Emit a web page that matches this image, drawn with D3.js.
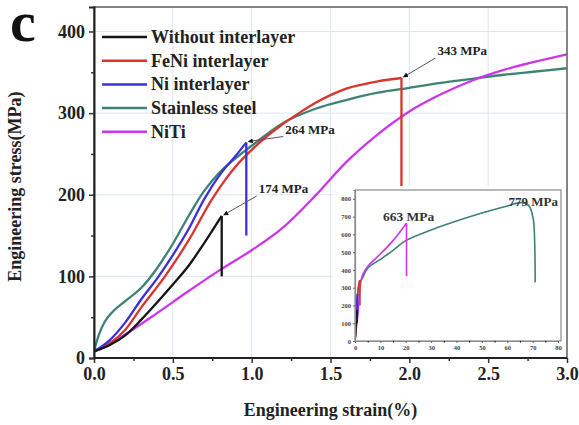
<!DOCTYPE html>
<html>
<head>
<meta charset="utf-8">
<script src="https://cdn.jsdelivr.net/npm/d3@7/dist/d3.min.js"></script>
<style>
  body { margin: 0; background: #fff; }
  svg { font-family: "Liberation Serif", "DejaVu Serif", serif; font-weight: bold; }
</style>
</head>
<body>
<div id="chart"></div>
<script>
// Tensile curves (strain in %, stress in MPa)
const seriesNames = ["Without interlayer", "FeNi interlayer", "Ni interlayer", "Stainless steel", "NiTi"];
const seriesColors = ["#151515", "#d8352f", "#3b30dc", "#3e8275", "#cc35ea"];

const withoutStrain = [0, 0.1, 0.2, 0.3, 0.4, 0.5, 0.6, 0.7, 0.81];
const withoutStress = [8, 16, 28, 47, 68, 90, 113, 141, 174];
const withoutDrop = 100;

const feniStrain = [0, 0.1, 0.2, 0.3, 0.45, 0.6, 0.75, 0.9, 1.0, 1.1, 1.2, 1.3, 1.4, 1.5, 1.6, 1.7, 1.8, 1.95];
const feniStress = [8, 18, 35, 62, 100, 144, 195, 235, 255, 272, 287, 300, 312, 322, 330, 335, 339, 343];
const feniDrop = 200;

const niStrain = [0, 0.1, 0.2, 0.3, 0.41, 0.5, 0.6, 0.7, 0.8, 0.9, 0.966];
const niStress = [8, 22, 44, 72, 100, 126, 158, 195, 225, 248, 264];
const niDrop = 150;

const steelStrain = [0, 0.03, 0.07, 0.12, 0.2, 0.3, 0.4, 0.5, 0.6, 0.7, 0.8, 0.9, 1.0, 1.2, 1.4, 1.6, 1.8, 2.0, 2.2, 2.4, 2.6, 2.8, 3.0];
const steelStress = [8, 28, 45, 57, 70, 86, 110, 140, 174, 205, 228, 245, 260, 288, 305, 316, 325, 331, 337, 342, 347, 351, 355];

const nitiStrain = [0, 0.1, 0.2, 0.4, 0.6, 0.8, 1.0, 1.2, 1.4, 1.6, 1.8, 2.0, 2.2, 2.4, 2.6, 2.8, 3.0];
const nitiStress = [8, 17, 29, 55, 82, 108, 132, 160, 198, 240, 274, 302, 323, 340, 353, 363, 372];

// Inset: the two long curves continue far beyond 3 %
const steelInsetStrain = [5, 10, 15, 20, 30, 40, 50, 60, 65.5, 68.5, 70.2, 70.8, 71];
const steelInsetStress = [410, 460, 510, 565, 625, 675, 720, 760, 779, 762, 690, 560, 330];
const nitiInsetStrain = [5, 10, 15, 20.3];
const nitiInsetStress = [420, 490, 565, 663];
const nitiInsetDrop = 365;

// Axis ticks
const xTicks = [0, 0.5, 1.0, 1.5, 2.0, 2.5, 3.0];
const yTicks = [0, 100, 200, 300, 400];
const insetXTicks = [0, 10, 20, 30, 40, 50, 60, 70, 80];
const insetYTicks = [0, 100, 200, 300, 400, 500, 600, 700, 800];

const width = 579, height = 425;
const margin = { top: 7, right: 12, bottom: 67, left: 94 };
const innerW = width - margin.left - margin.right;
const innerH = height - margin.top - margin.bottom;

const svg = d3.select("#chart").append("svg")
    .attr("width", width)
    .attr("height", height);

const x = d3.scaleLinear().domain([0, 3]).range([margin.left, margin.left + innerW]);
const y = d3.scaleLinear().domain([0, 430]).range([margin.top + innerH, margin.top]);

const zip = (xs, ys) => xs.map((v, i) => [v, ys[i]]);

const series = [
    { strain: withoutStrain, stress: withoutStress, drop: withoutDrop },
    { strain: feniStrain, stress: feniStress, drop: feniDrop },
    { strain: niStrain, stress: niStress, drop: niDrop },
    { strain: steelStrain, stress: steelStress, drop: null },
    { strain: nitiStrain, stress: nitiStress, drop: null }
].map((s, i) => ({ ...s, name: seriesNames[i], color: seriesColors[i] }));

// Gridlines
svg.append("g").selectAll("line.gx")
    .data(xTicks.slice(1, -1)).enter().append("line")
    .attr("x1", d => x(d)).attr("x2", d => x(d))
    .attr("y1", y(430)).attr("y2", y(0))
    .attr("stroke", "#dde5ee").attr("stroke-width", 1);
svg.append("g").selectAll("line.gy")
    .data(yTicks.slice(1)).enter().append("line")
    .attr("x1", x(0)).attr("x2", x(3))
    .attr("y1", d => y(d)).attr("y2", d => y(d))
    .attr("stroke", "#dde5ee").attr("stroke-width", 1);

// Clip for the main plot
svg.append("clipPath").attr("id", "clip-main")
    .append("rect")
    .attr("x", x(0)).attr("y", y(430))
    .attr("width", innerW).attr("height", innerH);

const line = d3.line()
    .x(d => x(d[0]))
    .y(d => y(d[1]))
    .curve(d3.curveMonotoneX);

const plot = svg.append("g").attr("clip-path", "url(#clip-main)");

// Draw in an order so NiTi and steel sit under the interlayer curves where it matters
[3, 4, 1, 2, 0].forEach(i => {
    const s = series[i];
    const pts = zip(s.strain, s.stress);
    plot.append("path")
        .attr("d", line(pts))
        .attr("fill", "none")
        .attr("stroke", s.color)
        .attr("stroke-width", 2.3);
    if (s.drop !== null) {
        const last = pts[pts.length - 1];
        plot.append("line")
            .attr("x1", x(last[0])).attr("x2", x(last[0]))
            .attr("y1", y(last[1])).attr("y2", y(s.drop))
            .attr("stroke", s.color)
            .attr("stroke-width", 2.3);
    }
});

// Frame around the plot
svg.append("rect")
    .attr("x", x(0)).attr("y", y(430))
    .attr("width", innerW).attr("height", innerH)
    .attr("fill", "none")
    .attr("stroke", "#666")
    .attr("stroke-width", 1.6);

// Axes with minor ticks
const xAxis = svg.append("g")
    .attr("transform", `translate(0,${y(0)})`)
    .call(d3.axisBottom(x).tickValues(xTicks).tickFormat(d3.format(".1f")).tickSize(5).tickPadding(4));
svg.append("g")
    .attr("transform", `translate(0,${y(0)})`)
    .call(d3.axisBottom(x).tickValues(d3.range(0.25, 3, 0.5)).tickFormat("").tickSize(3))
    .select(".domain").remove();
const yAxis = svg.append("g")
    .attr("transform", `translate(${x(0)},0)`)
    .call(d3.axisLeft(y).tickValues(yTicks).tickSize(5).tickPadding(4));
svg.append("g")
    .attr("transform", `translate(${x(0)},0)`)
    .call(d3.axisLeft(y).tickValues([50, 150, 250, 350]).tickFormat("").tickSize(3))
    .select(".domain").remove();

svg.selectAll(".tick line").attr("stroke", "#333").attr("stroke-width", 1.5);
[xAxis, yAxis].forEach(a => {
    a.select(".domain").attr("stroke", "#222").attr("stroke-width", 2);
    a.selectAll(".tick text")
        .attr("font-family", "Liberation Serif, serif")
        .attr("font-weight", "bold")
        .attr("font-size", 18)
        .attr("fill", "#222");
});
xAxis.select(".domain").attr("d", `M${x(0)},0H${x(3)}`);

// Axis titles
svg.append("text")
    .attr("x", x(1.5)).attr("y", 416)
    .attr("text-anchor", "middle")
    .attr("font-size", 18)
    .attr("fill", "#222")
    .text("Engineering strain(%)");
svg.append("text")
    .attr("transform", `translate(21,${y(210)}) rotate(-90)`)
    .attr("text-anchor", "middle")
    .attr("font-size", 18)
    .attr("fill", "#222")
    .text("Engineering stress(MPa)");

// Panel letter
svg.append("text")
    .attr("x", 10).attr("y", 41)
    .attr("font-size", 58)
    .attr("fill", "#111")
    .text("c");

// Legend
const legend = svg.append("g");
series.forEach((s, i) => {
    const ly = 37 + i * 23.7;
    legend.append("line")
        .attr("x1", 102).attr("x2", 147)
        .attr("y1", ly).attr("y2", ly)
        .attr("stroke", s.color).attr("stroke-width", 2.5);
    legend.append("text")
        .attr("x", 151).attr("y", ly + 6)
        .attr("font-size", 18)
        .attr("fill", "#222")
        .text(s.name);
});

// Peak annotations with arrows
svg.append("defs").append("marker")
    .attr("id", "arrow")
    .attr("viewBox", "0 0 10 10")
    .attr("refX", 9).attr("refY", 5)
    .attr("markerWidth", 5).attr("markerHeight", 5)
    .attr("orient", "auto")
    .append("path")
    .attr("d", "M0,0L10,5L0,10z")
    .attr("fill", "#111");

const peaks = [0, 2, 1].map(i => {
    const s = series[i];
    return { strain: s.strain[s.strain.length - 1], stress: s.stress[s.stress.length - 1] };
});
const labelOffsets = [[37, -22], [39, -8], [36, -22]];
peaks.forEach((p, i) => {
    const px = x(p.strain), py = y(p.stress);
    const [dx, dy] = labelOffsets[i];
    svg.append("line")
        .attr("x1", px + dx - 2).attr("y1", py + dy + 2)
        .attr("x2", px + 2).attr("y2", py - 1)
        .attr("stroke", "#555").attr("stroke-width", 1)
        .attr("marker-end", "url(#arrow)");
    svg.append("text")
        .attr("x", px + dx).attr("y", py + dy - 1)
        .attr("font-size", 13)
        .attr("fill", "#222")
        .text(`${p.stress} MPa`);
});

// Inset
const ix = d3.scaleLinear().domain([0, 80]).range([355, 558]);
const iy = d3.scaleLinear().domain([0, 850]).range([341, 190]);

svg.append("rect")
    .attr("x", 333).attr("y", 186)
    .attr("width", 233).attr("height", 170)
    .attr("fill", "#fff");
svg.append("clipPath").attr("id", "clip-inset")
    .append("rect")
    .attr("x", ix(0)).attr("y", iy(850))
    .attr("width", ix(80) - ix(0) + 4).attr("height", iy(0) - iy(850));

const iline = d3.line()
    .x(d => ix(d[0]))
    .y(d => iy(d[1]))
    .curve(d3.curveCatmullRom.alpha(0.5));

const inset = svg.append("g").attr("clip-path", "url(#clip-inset)");
const insetData = [
    { pts: zip(steelStrain, steelStress).concat(zip(steelInsetStrain, steelInsetStress)), color: seriesColors[3] },
    { pts: zip(nitiStrain, nitiStress).concat(zip(nitiInsetStrain, nitiInsetStress)), color: seriesColors[4], drop: nitiInsetDrop },
    { pts: zip(feniStrain, feniStress), color: seriesColors[1], drop: feniDrop },
    { pts: zip(niStrain, niStress), color: seriesColors[2], drop: niDrop },
    { pts: zip(withoutStrain, withoutStress), color: seriesColors[0], drop: withoutDrop }
];
insetData.forEach(s => {
    inset.append("path")
        .attr("d", iline(s.pts))
        .attr("fill", "none")
        .attr("stroke", s.color)
        .attr("stroke-width", 1.6);
    if (s.drop !== undefined) {
        const last = s.pts[s.pts.length - 1];
        inset.append("line")
            .attr("x1", ix(last[0])).attr("x2", ix(last[0]))
            .attr("y1", iy(last[1])).attr("y2", iy(s.drop))
            .attr("stroke", s.color)
            .attr("stroke-width", 1.6);
    }
});

svg.append("rect")
    .attr("x", ix(0)).attr("y", iy(850))
    .attr("width", ix(80) - ix(0) + 3).attr("height", iy(0) - iy(850))
    .attr("fill", "none")
    .attr("stroke", "#8a8a8a")
    .attr("stroke-width", 1.2);

const ixAxis = svg.append("g")
    .attr("transform", `translate(0,${iy(0)})`)
    .call(d3.axisBottom(ix).tickValues(insetXTicks).tickSize(2).tickPadding(2));
svg.append("g")
    .attr("transform", `translate(0,${iy(0)})`)
    .call(d3.axisBottom(ix).tickValues(d3.range(5, 80, 10)).tickFormat("").tickSize(1.5))
    .select(".domain").remove();
const iyAxis = svg.append("g")
    .attr("transform", `translate(${ix(0)},0)`)
    .call(d3.axisLeft(iy).tickValues(insetYTicks).tickSize(2).tickPadding(2));
[ixAxis, iyAxis].forEach(a => {
    a.select(".domain").attr("stroke", "#8a8a8a").attr("stroke-width", 1.2);
    a.selectAll(".tick line").attr("stroke", "#666").attr("stroke-width", 1);
    a.selectAll(".tick text")
        .attr("font-family", "Liberation Serif, serif")
        .attr("font-weight", "bold")
        .attr("font-size", 6.5)
        .attr("fill", "#444");
});

// Inset peak labels
svg.append("text")
    .attr("x", ix(80)).attr("y", iy(779) + 3)
    .attr("text-anchor", "end")
    .attr("font-size", 13)
    .attr("fill", "#333")
    .text(`${steelInsetStress[8]} MPa`);
svg.append("text")
    .attr("x", ix(11)).attr("y", iy(663) - 2)
    .attr("font-size", 13.5)
    .attr("fill", "#333")
    .text(`${nitiInsetStress[3]} MPa`);
</script>
</body>
</html>
